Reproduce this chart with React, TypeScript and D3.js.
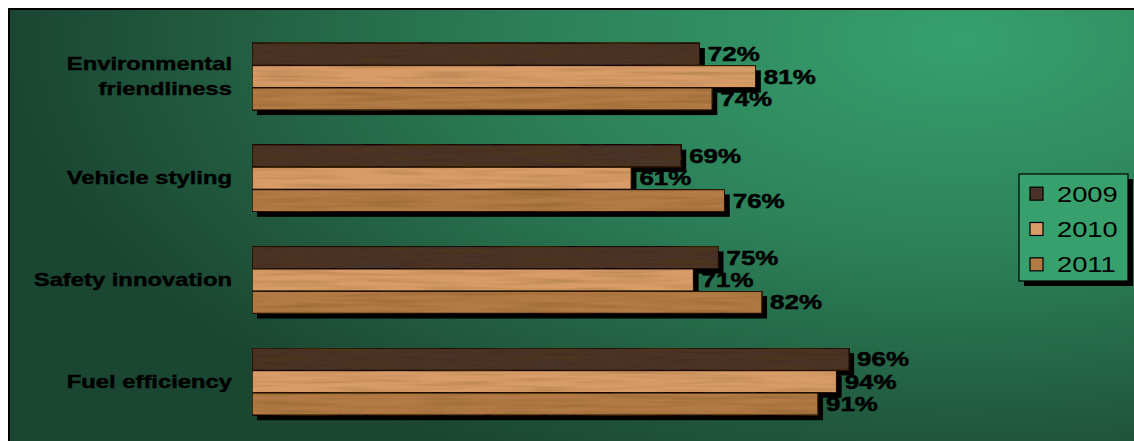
import React from "react";
import * as d3 from "d3";

const categories = [
  "Environmental friendliness",
  "Vehicle styling",
  "Safety innovation",
  "Fuel efficiency",
];
const years = ["2009", "2010", "2011"];
const values2009 = [72, 69, 75, 96];
const values2010 = [81, 61, 71, 94];
const values2011 = [74, 76, 82, 91];
const seriesValues = [values2009, values2010, values2011];
const seriesColors = ["#4a3228", "#d89c68", "#b27a45"];
const categoryLines: string[][] = [
  ["Environmental", "friendliness"],
  ["Vehicle styling"],
  ["Safety innovation"],
  ["Fuel efficiency"],
];

const W = 1134;
const H = 441;
const FONT = "'Liberation Sans', Arial, Helvetica, sans-serif";

export default function App() {
  const x = d3.scaleLinear().domain([0, 100]).range([252, 874]);
  const y = d3
    .scaleBand<string>()
    .domain(categories)
    .range([25.7, 432.5])
    .paddingInner(0.34)
    .paddingOuter(0.17);
  const ys = d3.scaleBand<string>().domain(years).range([0, y.bandwidth()]);
  const bh = ys.bandwidth();

  const legendY = d3.scaleBand<string>().domain(years).range([176, 282]);

  return (
    <svg
      width={W}
      height={H}
      style={{ position: "absolute", left: 0, top: 0 }}
      fontFamily={FONT}
    >
      <defs>
        <radialGradient
          id="bg"
          gradientUnits="userSpaceOnUse"
          cx={960}
          cy={40}
          r={950}
          gradientTransform="translate(960,40) scale(1,0.5) translate(-960,-40)"
        >
          <stop offset="0" stopColor="#37a06e" />
          <stop offset="0.45" stopColor="#2c8059" />
          <stop offset="0.8" stopColor="#215a3f" />
          <stop offset="1" stopColor="#1b4632" />
        </radialGradient>
        <filter id="wood" x="0" y="0" width="1" height="1">
          <feTurbulence
            type="fractalNoise"
            baseFrequency="0.012 0.25"
            numOctaves={2}
            seed={4}
            result="noise"
          />
          <feColorMatrix
            in="noise"
            type="matrix"
            values="0 0 0 0 0.1  0 0 0 0 0.05  0 0 0 0 0  0.7 0 0 0 -0.28"
            result="shade"
          />
          <feComposite in="shade" in2="SourceGraphic" operator="in" result="shadeIn" />
          <feMerge>
            <feMergeNode in="SourceGraphic" />
            <feMergeNode in="shadeIn" />
          </feMerge>
        </filter>
      </defs>

      <rect x={9} y={9} width={W} height={H} fill="url(#bg)" stroke="#000" strokeWidth={2} />

      {categories.map((c, i) => {
        const lines = categoryLines[i];
        const cy = (y(c) as number) + y.bandwidth() / 2;
        return (
          <g key={c}>
            {lines.map((ln, j) => (
              <text
                key={ln}
                transform={`translate(232,${cy + 6 + (j - (lines.length - 1) / 2) * 25}) scale(1.36,1)`}
                textAnchor="end"
                fontWeight="bold"
                fontSize={17.5}
                fill="#000"
                stroke="#000"
                strokeWidth={0.4}
              >
                {ln}
              </text>
            ))}
          </g>
        );
      })}

      {years.map((yr, s) => (
        <g key={yr}>
          {categories.map((c, i) => {
            const v = seriesValues[s][i];
            const by = (y(c) as number) + (ys(yr) as number);
            return (
              <rect
                key={c}
                x={x(0) + 5}
                y={by + 5}
                width={x(v) - x(0)}
                height={bh}
                fill="#000"
              />
            );
          })}
          {categories.map((c, i) => {
            const v = seriesValues[s][i];
            const by = (y(c) as number) + (ys(yr) as number);
            return (
              <rect
                key={c}
                x={x(0)}
                y={by}
                width={x(v) - x(0)}
                height={bh}
                fill={seriesColors[s]}
                stroke="#1a0f08"
                strokeWidth={1.5}
                filter="url(#wood)"
              />
            );
          })}
          {categories.map((c, i) => {
            const v = seriesValues[s][i];
            const by = (y(c) as number) + (ys(yr) as number);
            return (
              <text
                key={c}
                transform={`translate(${x(v) + 8},${by + bh / 2 + 7}) scale(1.33,1)`}
                fontWeight="bold"
                fontSize={19.5}
                fill="#000"
                stroke="#000"
                strokeWidth={0.5}
              >
                {v}%
              </text>
            );
          })}
        </g>
      ))}

      <rect x={1024} y={179} width={109} height={107} fill="#000" />
      <rect x={1019} y={174} width={109} height={107} fill="#38a06c" stroke="#000" strokeWidth={1.2} />
      {years.map((yr, s) => {
        const cy = (legendY(yr) as number) + legendY.bandwidth() / 2;
        return (
          <g key={yr}>
            <rect
              x={1030}
              y={cy - 6.5}
              width={13}
              height={13}
              fill={seriesColors[s]}
              stroke="#000"
              strokeWidth={1.2}
            />
            <text
              transform={`translate(1057,${cy + 8}) scale(1.27,1)`}
              fontSize={21.5}
              fill="#000"
            >
              {yr}
            </text>
          </g>
        );
      })}
    </svg>
  );
}
